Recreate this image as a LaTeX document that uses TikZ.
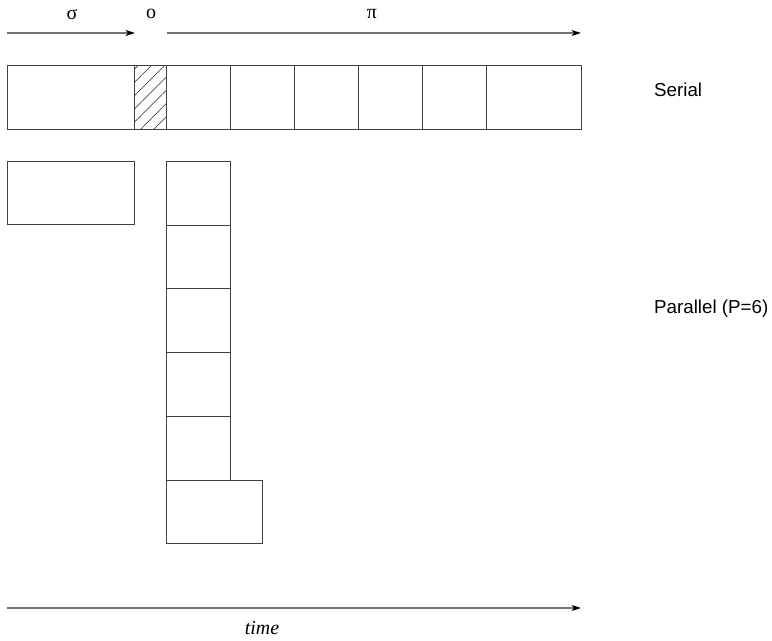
\documentclass[tikz,border=0pt]{standalone}
\usepackage{fontspec}
\usetikzlibrary{arrows.meta,patterns.meta}
\newfontfamily\sansfont{Liberation Sans}
\newfontfamily\seriffont{Liberation Serif}
\tikzset{
  box/.style={draw=black!75, line width=0.8pt},
  timearrow/.style={draw=black!55, line width=0.9pt, -{Stealth[length=8pt,width=5pt,inset=2pt,black]}},
  rowlabel/.style={inner sep=0pt, anchor=west, font=\sansfont\fontsize{16}{18}\selectfont},
  symlabel/.style={inner sep=0pt, font=\seriffont\fontsize{17}{19}\selectfont},
}

\begin{document}
\begin{tikzpicture}[x=0.03cm,y=-0.03cm]
\useasboundingbox (0,0) rectangle (772,641);
% phase arrows
\coordinate (sigmaL) at (7,33);
\coordinate (sigmaR) at (135,33);
\coordinate (piL) at (167,33);
\coordinate (piR) at (581,33);
\draw[timearrow] (sigmaL) -- (sigmaR);
\draw[timearrow] (piL) -- (piR);
\node[symlabel] (sigma) at (72,14) {σ};
\node[symlabel] (omicron) at (151,14) {o};
\node[symlabel] (pi) at (372,14) {π};
% serial run
\draw[box] (7,65) rectangle (134,129);
\draw[box, pattern={Lines[angle=45,distance=8pt,line width=0.6pt]}, pattern color=black!70] (134,65) rectangle (166,129);
\draw[box] (166,65) rectangle (230,129);
\draw[box] (230,65) rectangle (294,129);
\draw[box] (294,65) rectangle (358,129);
\draw[box] (358,65) rectangle (422,129);
\draw[box] (422,65) rectangle (486,129);
\draw[box] (486,65) rectangle (581,129);
\node[rowlabel] (serial) at (654,90) {Serial};
% parallel run
\draw[box] (7,161) rectangle (134,224);
\draw[box] (166,161) rectangle (230,225);
\draw[box] (166,225) rectangle (230,288);
\draw[box] (166,288) rectangle (230,352);
\draw[box] (166,352) rectangle (230,416);
\draw[box] (166,416) rectangle (230,480);
\draw[box] (166,480) rectangle (262,543);
\node[rowlabel] (parallel) at (654,309) {Parallel (P=6)};
% time axis
\coordinate (timeL) at (7,608);
\coordinate (timeR) at (581,608);
\draw[timearrow] (timeL) -- (timeR);
\node[symlabel, font=\seriffont\itshape\fontsize{17}{19}\selectfont] (time) at (262,628) {time};
\end{tikzpicture}
\end{document}
